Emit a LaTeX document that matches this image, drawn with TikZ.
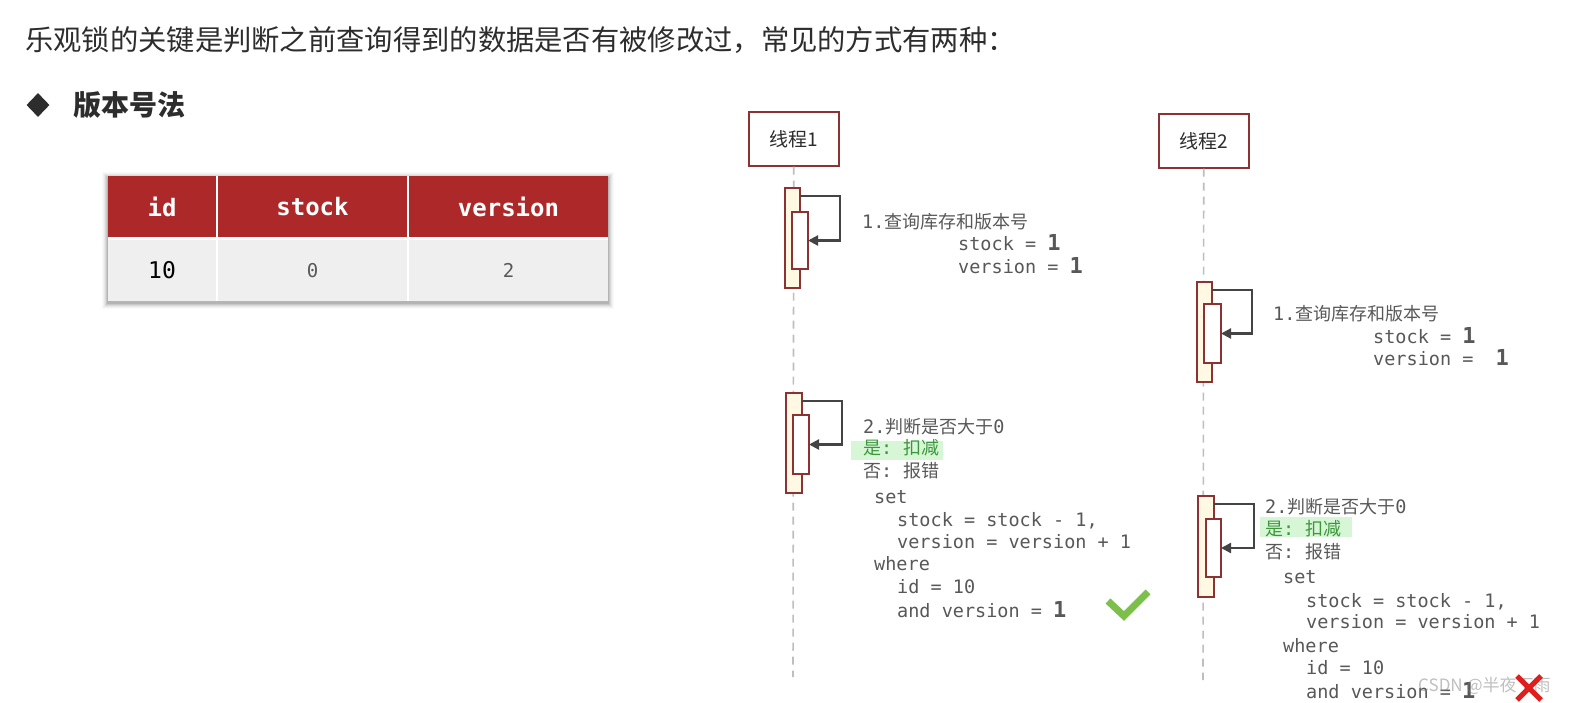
\documentclass[tikz,border=0pt]{standalone}
\usepackage{fontspec}
\usetikzlibrary{arrows.meta,calc,shapes.geometric}
\newfontfamily\cjk{Noto Sans CJK SC}
\newfontfamily\mono{DejaVu Sans Mono}
\definecolor{hdred}{RGB}{173,41,41}
\definecolor{boxred}{RGB}{140,50,50}
\definecolor{actfill}{RGB}{255,249,228}
\definecolor{codegray}{RGB}{88,88,88}
\definecolor{arrgray}{RGB}{68,68,68}
\definecolor{rowgray}{RGB}{239,239,239}
\definecolor{hlgreen}{RGB}{214,246,214}
\definecolor{txtgreen}{RGB}{60,150,60}
\definecolor{okgreen}{RGB}{124,192,75}
\definecolor{xred}{RGB}{225,30,30}
\definecolor{titlegray}{RGB}{45,45,45}
\definecolor{lifegray}{RGB}{190,190,190}
\newcommand\zhc[1]{{\cjk\fontsize{18}{20}\selectfont #1}}
\newcommand\bone{{\mono\bfseries\fontsize{22}{22}\selectfont 1}}
\tikzset{
  code/.style={anchor=base west, inner sep=0pt, font=\mono\fontsize{18.5}{20}\selectfont, text=codegray},
  thread/.style={draw=boxred, line width=1.5pt, fill=white, anchor=north west, inner sep=0pt,
    minimum width=90pt, minimum height=54pt, font=\cjk\fontsize{19}{20}\selectfont, text=titlegray},
  life/.style={draw=lifegray, line width=1.6pt, dash pattern=on 8pt off 6pt},
  actout/.style={draw=boxred, line width=1.3pt, fill=actfill, anchor=north west, inner sep=0pt, outer sep=0pt},
  actin/.style={draw=boxred, line width=1.3pt, fill=white, anchor=north west, inner sep=0pt, outer sep=0pt},
  selfarr/.style={draw=arrgray, line width=2.2pt, -{Triangle[length=10pt,width=10pt]}},
  hdcell/.style={fill=hdred, anchor=north west, inner sep=0pt, outer sep=0pt, minimum height=61pt,
    text=white, font=\mono\bfseries\fontsize{24}{24}\selectfont},
  rowcell/.style={fill=rowgray, anchor=north west, inner sep=0pt, outer sep=0pt, minimum height=61pt,
    text=codegray},
  hl/.style={fill=hlgreen, draw=none, anchor=north west, inner sep=0pt},
}
\begin{document}
\begin{tikzpicture}[x=1pt,y=-1pt]
\useasboundingbox (0,0) rectangle (1569,702);
\fill[white] (0,0) rectangle (1569,702);

% title
\node[anchor=base west, inner sep=0pt, font=\cjk\fontsize{28.3}{30}\selectfont, text=titlegray] (title) at (25,50)
  {乐观锁的关键是判断之前查询得到的数据是否有被修改过，常见的方式有两种：};
\node[diamond, fill=titlegray, inner sep=0pt, minimum width=23pt, minimum height=24pt] (bullet) at (38,105) {};
\node[anchor=base west, inner sep=0pt, font=\cjk\bfseries\fontsize{28}{30}\selectfont, text=titlegray] (method) at (73,115) {版本号法};

% table shadow
\foreach \i/\o in {1/0.10,2/0.08,3/0.06,4/0.04,5/0.03,6/0.02}{
  \fill[black, opacity=\o] (108-\i,176-\i+2) rectangle (608+\i,301+\i+2);
}
\fill[white] (108,176) rectangle (608,301);
\node[hdcell, minimum width=108pt] (h1) at (108,176) {id};
\node[hdcell, minimum width=189pt] (h2) at (218,176) {stock};
\node[hdcell, minimum width=199pt] (h3) at (409,176) {version};
\node[rowcell, minimum width=108pt, text=black, font=\mono\fontsize{23}{23}\selectfont] (r1) at (108,240) {10};
\node[rowcell, minimum width=189pt, font=\mono\fontsize{19}{19}\selectfont] (r2) at (218,240) {0};
\node[rowcell, minimum width=199pt, font=\mono\fontsize{19}{19}\selectfont] (r3) at (409,240) {\raisebox{-5pt}{2}};

% threads and lifelines
\node[thread] (t1) at (748,111) {线程1};
\node[thread] (t2) at (1158,113) {线程2};
\coordinate (e1) at (793,677);
\coordinate (e2) at (1203,680);
\draw[life] (t1.south) -- (e1);
\draw[life] (t2.south) -- (e2);

% activations thread 1
\node[actout, minimum width=15pt, minimum height=100pt] (a1o) at (785,188) {};
\node[actin, minimum width=16pt, minimum height=57pt] (a1i) at (792,212) {};
\draw[selfarr] ($(a1o.north east)+(0,8)$) -- ++(40,0) |- (a1i.east);
\node[actout, minimum width=16pt, minimum height=100pt] (b1o) at (786,393) {};
\node[actin, minimum width=16pt, minimum height=59pt] (b1i) at (793,415) {};
\draw[selfarr] ($(b1o.north east)+(0,8)$) -- ++(40,0) |- (b1i.east);

% activations thread 2
\node[actout, minimum width=15pt, minimum height=100pt] (a2o) at (1197,282) {};
\node[actin, minimum width=17pt, minimum height=59pt] (a2i) at (1204,304) {};
\draw[selfarr] ($(a2o.north east)+(0,8)$) -- ++(40,0) |- (a2i.east);
\node[actout, minimum width=16pt, minimum height=101pt] (b2o) at (1198,496) {};
\node[actin, minimum width=15pt, minimum height=58pt] (b2i) at (1206,519) {};
\draw[selfarr] ($(b2o.north east)+(0,8)$) -- ++(40,0) |- (b2i.east);

% thread 1 texts
\node[code] (q1) at (862,228) {1.\zhc{查询库存和版本号}};
\node[code] (q1s) at (958,250) {stock = \bone};
\node[code] (q1v) at (958,273) {version = \bone};

\node[hl, minimum width=92pt, minimum height=19pt] (hl1) at (851,441) {};
\node[code] (j1) at (863,433) {2.\zhc{判断是否大于}0};
\node[code, text=txtgreen] (y1) at (863,454) {\zhc{是}:\ \zhc{扣减}};
\node[code] (n1) at (863,477) {\zhc{否}:\ \zhc{报错}};
\node[code] (s1) at (874,503) {set};
\node[code] (s1a) at (897,526) {stock = stock - 1,};
\node[code] (s1b) at (897,548) {version = version + 1};
\node[code] (w1) at (874,570) {where};
\node[code] (w1a) at (897,593) {id = 10};
\node[code] (w1b) at (897,617) {and version = \bone};

% thread 2 texts
\node[code] (q2) at (1273,320) {1.\zhc{查询库存和版本号}};
\node[code] (q2s) at (1373,343) {stock = \bone};
\node[code] (q2v) at (1373,365) {version =\ \ \bone};

\node[hl, minimum width=92pt, minimum height=20pt] (hl2) at (1260,517) {};
\node[code] (j2) at (1265,513) {2.\zhc{判断是否大于}0};
\node[code, text=txtgreen] (y2) at (1265,535) {\zhc{是}:\ \zhc{扣减}};
\node[code] (n2) at (1265,558) {\zhc{否}:\ \zhc{报错}};
\node[code] (s2) at (1283,583) {set};
\node[code] (s2a) at (1306,607) {stock = stock - 1,};
\node[code] (s2b) at (1306,628) {version = version + 1};
\node[code] (w2) at (1283,652) {where};
\node[code] (w2a) at (1306,674) {id = 10};
\node[code] (w2b) at (1306,698) {and version = \bone};

% check mark
\coordinate (ck1) at (1108,601);
\coordinate (ck2) at (1124,616);
\coordinate (ck3) at (1148,592);
\draw[okgreen, line width=7pt] (ck1) -- (ck2) -- (ck3);

% watermark
\node[anchor=base west, inner sep=0pt, font=\cjk\fontsize{17}{18}\selectfont, text=gray, opacity=0.5] (wm) at (1418,691) {CSDN @半夜下雨};

% red cross
\coordinate (x1) at (1517,676);
\coordinate (x2) at (1541,700);
\coordinate (x3) at (1541,676);
\coordinate (x4) at (1517,700);
\draw[xred, line width=5pt] (x1) -- (x2) (x3) -- (x4);
\end{tikzpicture}
\end{document}
